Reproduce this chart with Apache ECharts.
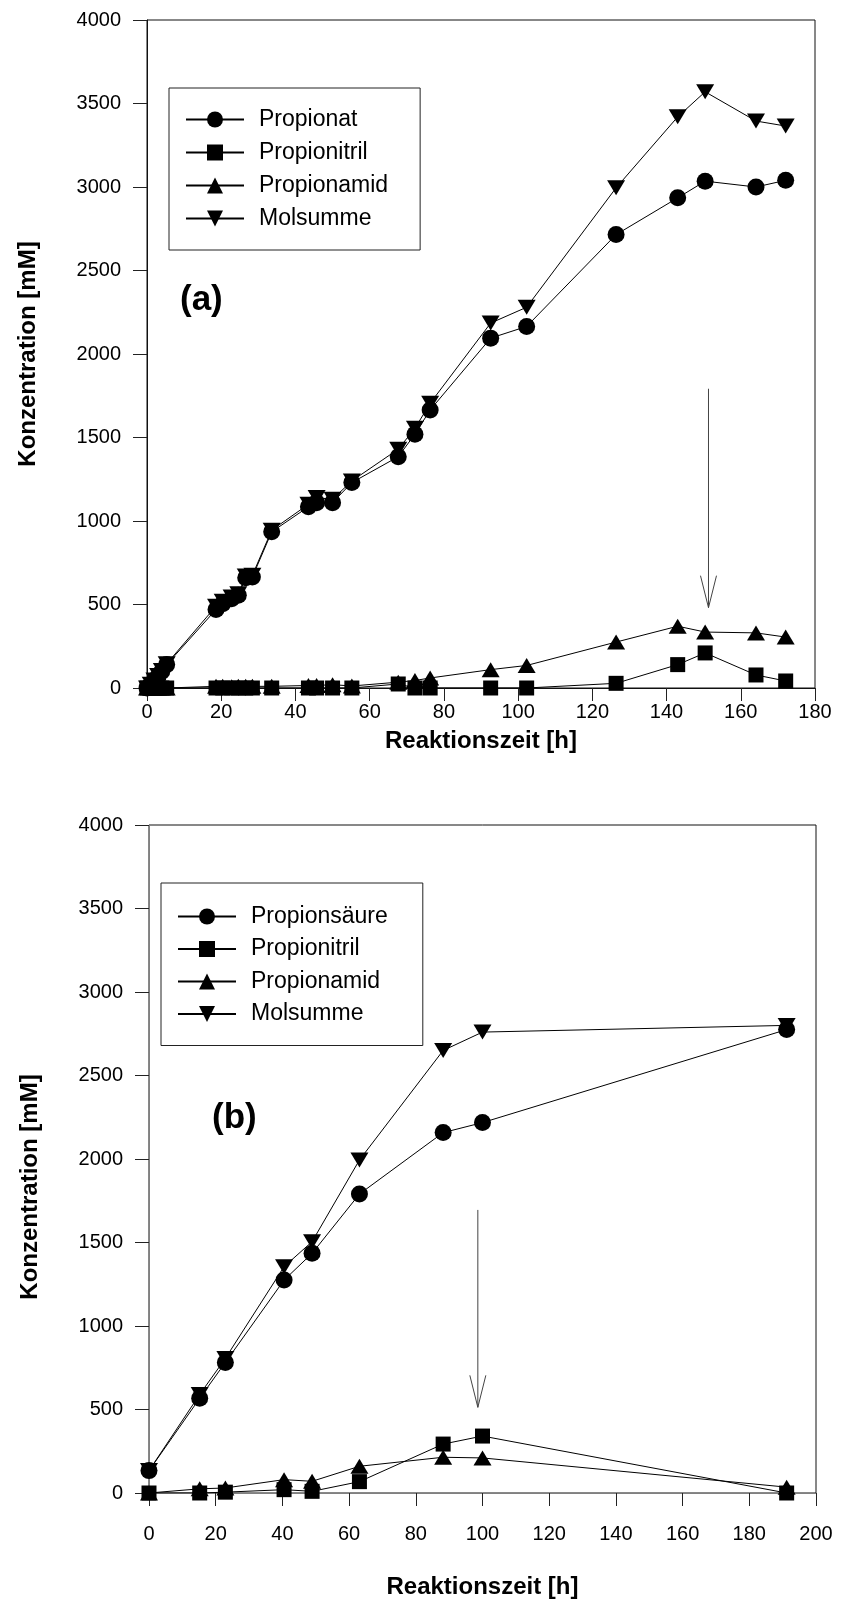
<!DOCTYPE html>
<html>
<head>
<meta charset="utf-8">
<script src="https://cdn.jsdelivr.net/npm/echarts@6/dist/echarts.min.js"></script>
<style>
  html, body { margin: 0; padding: 0; background: #fff; }
  #chart { width: 842px; height: 1602px; }
</style>
</head>
<body>
<div id="chart"></div>
<script>
// (a) reaction times [h] and concentrations [mM]
const timeA = [0, 1, 2, 3, 4, 5.3, 18.6, 20.4, 22.8, 24.6, 26.6, 28.4, 33.6, 43.5, 45.7, 50, 55.2,
               67.7, 72.2, 76.3, 92.6, 102.3, 126.4, 143, 150.4, 164.1, 172.1];
const propionatA = [0, 20, 45, 70, 100, 140, 470, 505, 535, 555, 660, 665, 935, 1085, 1110, 1110, 1230,
                    1385, 1520, 1665, 2095, 2165, 2715, 2935, 3035, 3000, 3040];
const nitrilA = [0, 0, 0, 0, 0, 0, 0, 0, 0, 0, 0, 0, 0, 0, 0, 0, 0,
                 24, 0, 0, 0, 0, 28, 140, 210, 78, 42];
const amidA = [0, 0, 0, 0, 0, 0, 10, 10, 8, 10, 10, 10, 10, 15, 15, 20, 12,
               35, 45, 60, 110, 135, 275, 370, 335, 330, 305];
const molA = [0, 22, 48, 75, 105, 145, 490, 520, 545, 565, 670, 675, 945, 1100, 1140, 1130, 1240,
              1430, 1555, 1705, 2185, 2280, 2995, 3420, 3570, 3395, 3365];

// (b) reaction times [h] and concentrations [mM]
const timeB = [0, 15.2, 22.9, 40.5, 48.9, 63.1, 88.2, 100, 191.2];
const saeureB = [134, 567, 782, 1275, 1435, 1790, 2158, 2218, 2775];
const nitrilB = [0, 0, 5, 20, 10, 68, 293, 341, 0];
const amidB = [0, 25, 30, 80, 70, 160, 214, 210, 35];
const molB = [134, 590, 806, 1355, 1505, 1994, 2650, 2760, 2800];

// arrows: [time, start concentration, tip concentration]
const arrowA = [[151.3, 1792, 481]];
const arrowB = [[98.6, 1695, 513]];

const legendA = ['Propionat', 'Propionitril', 'Propionamid', 'Molsumme'];
const legendB = ['Propionsäure', 'Propionitril', 'Propionamid', 'Molsumme'];
const xTitle = 'Reaktionszeit [h]';
const yTitle = 'Konzentration [mM]';

const FONT = '"Liberation Sans", Arial, sans-serif';

function pairs(xs, ys) { return xs.map((x, i) => [x, ys[i]]); }

const markers = {
  circle: { symbol: 'circle', symbolSize: 17, symbolRotate: 0 },
  square: { symbol: 'rect', symbolSize: 15, symbolRotate: 0 },
  up: { symbol: 'triangle', symbolSize: [18, 15], symbolRotate: 0 },
  down: { symbol: 'triangle', symbolSize: [18, 15], symbolRotate: 180 }
};

function lineSeries(name, idx, xs, ys, m) {
  return Object.assign({
    type: 'line', name: name, xAxisIndex: idx, yAxisIndex: idx,
    data: pairs(xs, ys), showSymbol: true, showAllSymbol: true,
    lineStyle: { color: '#000', width: 1 },
    itemStyle: { color: '#000' },
    emphasis: { disabled: true },
    animation: false
  }, markers[m]);
}

function arrowSeries(idx, data) {
  return {
    type: 'custom', xAxisIndex: idx, yAxisIndex: idx, data: data,
    encode: { x: 0, y: [1, 2] }, silent: true, animation: false,
    renderItem: function (params, api) {
      const a = api.coord([api.value(0), api.value(1)]);
      const b = api.coord([api.value(0), api.value(2)]);
      return {
        type: 'group', children: [
          { type: 'line', shape: { x1: a[0], y1: a[1], x2: b[0], y2: b[1] },
            style: { stroke: '#444', lineWidth: 1 } },
          { type: 'polyline', shape: { points: [[b[0] - 8, b[1] - 32], [b[0], b[1]], [b[0] + 8, b[1] - 32]] },
            style: { stroke: '#444', fill: null, lineWidth: 1 } }
        ]
      };
    }
  };
}

const plainNumber = v => String(v);

function xAxis(idx, max, labelMargin, nameGap, lineColor) {
  return {
    type: 'value', gridIndex: idx, min: 0, max: max, interval: 20,
    name: xTitle, nameLocation: 'middle', nameGap: nameGap,
    nameTextStyle: { fontFamily: FONT, fontWeight: 'bold', fontSize: 24, color: '#000' },
    axisLine: { show: true, lineStyle: { color: lineColor, width: 1 } },
    axisTick: { show: true, inside: false, length: 13, lineStyle: { color: '#222' } },
    axisLabel: { margin: labelMargin, fontFamily: FONT, fontSize: 20, color: '#000', formatter: plainNumber },
    splitLine: { show: false }
  };
}

function yAxis(idx, lineColor, namePad) {
  return {
    type: 'value', gridIndex: idx, min: 0, max: 4000, interval: 500,
    name: yTitle, nameLocation: 'middle', nameGap: 107,
    nameTextStyle: { fontFamily: FONT, fontWeight: 'bold', fontSize: 24, color: '#000', padding: namePad },
    axisLine: { show: true, lineStyle: { color: lineColor, width: 1 } },
    axisTick: { show: true, inside: false, length: 14, lineStyle: { color: '#222' } },
    axisLabel: { margin: 26, fontFamily: FONT, fontSize: 20, color: '#000', formatter: plainNumber },
    splitLine: { show: false }
  };
}

function legend(data, left, top, padding, gap) {
  return {
    data: data, orient: 'vertical', left: left, top: top,
    padding: padding, itemGap: gap, itemWidth: 58, itemHeight: 20,
    borderColor: '#222', borderWidth: 1, borderRadius: 0,
    selectedMode: false,
    textStyle: { fontFamily: FONT, fontSize: 23, color: '#000', lineHeight: 20, padding: [0, 0, 0, 10] },
    inactiveColor: '#000'
  };
}

const chart = echarts.init(document.getElementById('chart'), null, { renderer: 'canvas' });
chart.setOption({
  backgroundColor: '#fff',
  animation: false,
  grid: [
    { left: 147, right: 27, top: 20, height: 668, show: true, borderColor: '#111', borderWidth: 1, backgroundColor: 'transparent' },
    { left: 149, right: 26, top: 825, height: 668, show: true, borderColor: '#111', borderWidth: 1, backgroundColor: 'transparent' }
  ],
  xAxis: [xAxis(0, 180, 14, 41, '#111'), xAxis(1, 200, 31, 82, '#808080')],
  yAxis: [yAxis(0, '#111', [0, 0, 0, 0]), yAxis(1, '#808080', [0, 56, 0, 0])],
  legend: [
    legend(legendA, 169, 88, [20, 32, 20, 16], 10),
    legend(legendB, 161, 883, [22, 35, 20, 16], 9.5)
  ],
  graphic: [
    { type: 'text', left: 180, top: 283, style: { text: '(a)', font: 'bold 35px "Liberation Sans", Arial, sans-serif', fill: '#000' } },
    { type: 'text', left: 212, top: 1101, style: { text: '(b)', font: 'bold 35px "Liberation Sans", Arial, sans-serif', fill: '#000' } }
  ],
  series: [
    lineSeries('Propionat', 0, timeA, propionatA, 'circle'),
    lineSeries('Propionitril', 0, timeA, nitrilA, 'square'),
    lineSeries('Propionamid', 0, timeA, amidA, 'up'),
    lineSeries('Molsumme', 0, timeA, molA, 'down'),
    arrowSeries(0, arrowA),
    lineSeries('Propionsäure', 1, timeB, saeureB, 'circle'),
    lineSeries('Propionitril', 1, timeB, nitrilB, 'square'),
    lineSeries('Propionamid', 1, timeB, amidB, 'up'),
    lineSeries('Molsumme', 1, timeB, molB, 'down'),
    arrowSeries(1, arrowB)
  ]
});
</script>
</body>
</html>
